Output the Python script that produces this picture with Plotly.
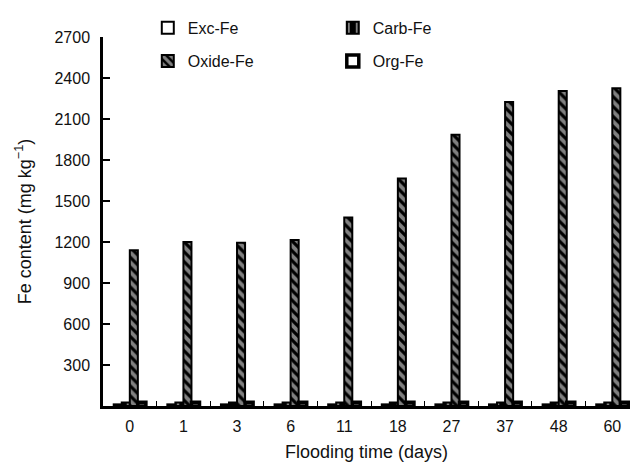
import plotly.graph_objects as go

days = ["0", "1", "3", "6", "11", "18", "27", "37", "48", "60"]
exc_fe = [12, 12, 12, 12, 12, 12, 12, 12, 12, 12]
carb_fe = [25, 25, 25, 25, 25, 25, 25, 25, 25, 25]
oxide_fe = [1140, 1200, 1195, 1215, 1380, 1665, 1985, 2225, 2305, 2325]
org_fe = [28, 28, 28, 28, 28, 28, 28, 28, 28, 28]
y_ticks = [300, 600, 900, 1200, 1500, 1800, 2100, 2400, 2700]

fig = go.Figure()
fig.add_trace(go.Bar(name="Exc-Fe", x=days, y=exc_fe, legend="legend",
                     marker=dict(color="white", line=dict(color="black", width=2))))
fig.add_trace(go.Bar(name="Carb-Fe", x=days, y=carb_fe, legend="legend",
                     marker=dict(color="black", line=dict(color="black", width=2),
                                 pattern=dict(shape="|", fgcolor="white", bgcolor="black",
                                              size=10, solidity=0.25))))
fig.add_trace(go.Bar(name="Oxide-Fe", x=days, y=oxide_fe, legend="legend2",
                     marker=dict(color="black", line=dict(color="black", width=2),
                                 pattern=dict(shape="\\", fgcolor="white", bgcolor="black",
                                              size=7, solidity=0.55))))
fig.add_trace(go.Bar(name="Org-Fe", x=days, y=org_fe, legend="legend2",
                     marker=dict(color="white", line=dict(color="black", width=3.5))))

font_family = "Liberation Sans, Arial, sans-serif"
txt = "#111"
leg_common = dict(orientation="h", xanchor="left", yanchor="middle",
                  font=dict(size=16, color=txt, family=font_family),
                  entrywidth=140, entrywidthmode="pixels",
                  bgcolor="rgba(0,0,0,0)", itemclick=False)

fig.update_layout(
    width=630, height=462,
    margin=dict(l=103, r=0, t=37, b=56),
    plot_bgcolor="white", paper_bgcolor="white",
    barmode="group", bargap=0.4, bargroupgap=0,
    font=dict(family=font_family, size=16, color=txt),
    legend=dict(x=0.085, y=1.025, **leg_common),
    legend2=dict(x=0.085, y=0.935, **leg_common),
    xaxis=dict(
        type="category", range=[-0.5, 9.33],
        showline=True, linecolor="black", linewidth=3,
        ticks="inside", ticklen=5, tickcolor="black", tickwidth=1,
        tickson="boundaries", ticklabelstandoff=4,
        showgrid=False, zeroline=False,
        tickfont=dict(size=16, color=txt),
        title=dict(text="Flooding time (days)", font=dict(size=18, color=txt), standoff=12),
    ),
    yaxis=dict(
        range=[0, 2700], tickvals=y_ticks,
        showline=True, linecolor="black", linewidth=2.5,
        ticks="inside", ticklen=7, tickcolor="black", tickwidth=1.5,
        ticklabelstandoff=7,
        showgrid=False, zeroline=False,
        tickfont=dict(size=16, color=txt),
        title=dict(text="Fe content (mg kg<sup>−1</sup>)", font=dict(size=18, color=txt), standoff=19),
    ),
)

fig.write_html("out.html")
